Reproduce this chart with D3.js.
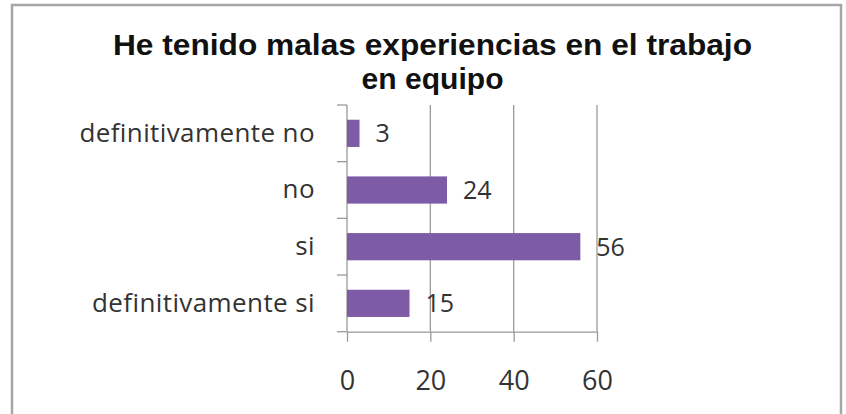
<!DOCTYPE html>
<html><head><meta charset="utf-8">
<script src="https://cdn.jsdelivr.net/npm/d3@7"></script>
<style>body{margin:0;background:#fff}svg{display:block}</style>
</head><body>
<script>
const titleLines = ["He tenido malas experiencias en el trabajo", "en equipo"];
const categories = ["definitivamente no", "no", "si", "definitivamente si"];
const values = [3, 24, 56, 15];
const xTicks = [0, 20, 40, 60];

const W = 846, H = 414;
const FONT = "'Open Sans', sans-serif";
const svg = d3.select("body").append("svg").attr("width", W).attr("height", H);
svg.append("rect").attr("width", W).attr("height", H).attr("fill", "#fff");
// frame
svg.append("path").attr("d", "M12,430 L12,5 L841,5 L841,430")
  .attr("fill", "none").attr("stroke", "#a6a6a6").attr("stroke-width", 2.5);

const m = {left: 347, right: 597, top: 105, bottom: 331.7};
const x = d3.scaleLinear().domain([0, 60]).range([m.left, m.right]);
const y = d3.scaleBand().domain(categories).range([m.top, m.bottom]).paddingInner(0.52).paddingOuter(0.26);
const yb = d3.scaleBand().domain(categories).range([m.top, m.bottom]);

// title
const t = svg.append("g").attr("font-family", "Liberation Sans, Arial, sans-serif")
  .attr("font-weight", "bold").attr("font-size", 30).attr("fill", "#111").attr("text-anchor", "middle");
t.append("text").attr("x", 432.5).attr("y", 55).attr("textLength", 639).attr("lengthAdjust", "spacingAndGlyphs").text(titleLines[0]);
t.append("text").attr("x", 432.5).attr("y", 89).attr("textLength", 142).attr("lengthAdjust", "spacingAndGlyphs").text(titleLines[1]);

// gridlines
svg.append("g").selectAll("line").data(xTicks.slice(1)).join("line")
  .attr("x1", d => x(d)).attr("x2", d => x(d)).attr("y1", m.top).attr("y2", m.bottom)
  .attr("stroke", "#9a9a9a").attr("stroke-width", 1.3);

// x axis
const xa = svg.append("g").attr("transform", `translate(0,${m.bottom})`)
  .call(d3.axisBottom(x).tickValues(xTicks).tickSize(10).tickPadding(29).tickSizeOuter(0));
xa.select(".domain").attr("stroke", "#9a9a9a").attr("stroke-width", 1.3);
xa.selectAll(".tick line").attr("stroke", "#9a9a9a").attr("stroke-width", 1.3);
xa.selectAll("text").attr("font-family", FONT).attr("font-size", 27).attr("fill", "#333");

// y axis with ticks at band boundaries
const ya = svg.append("g").attr("transform", `translate(${m.left},0)`);
ya.append("line").attr("x1", 0).attr("x2", 0).attr("y1", m.top).attr("y2", m.bottom).attr("stroke", "#9a9a9a").attr("stroke-width", 1.3);
const bounds = categories.map(c => yb(c)).concat([m.bottom]);
ya.selectAll(".bt").data(bounds).join("line").attr("class", "bt")
  .attr("x1", -10).attr("x2", 0).attr("y1", d => d).attr("y2", d => d)
  .attr("stroke", "#9a9a9a").attr("stroke-width", 1.3);
ya.selectAll("text").data(categories).join("text")
  .attr("x", -32).attr("y", d => yb(d) + yb.bandwidth() / 2).attr("dy", "0.32em")
  .attr("text-anchor", "end").attr("font-family", FONT).attr("font-size", 26)
  .attr("letter-spacing", 0.4).attr("fill", "#333")
  .text(d => d);

// bars
svg.append("g").selectAll("rect").data(values).join("rect")
  .attr("x", x(0)).attr("y", (d, i) => y(categories[i]))
  .attr("width", d => x(d) - x(0)).attr("height", y.bandwidth())
  .attr("fill", "#7d5ba6");

// value labels
svg.append("g").selectAll("text").data(values).join("text")
  .attr("x", d => x(d) + 16).attr("y", (d, i) => y(categories[i]) + y.bandwidth() / 2).attr("dy", "0.36em")
  .attr("font-family", FONT).attr("font-size", 25).attr("fill", "#333")
  .text(d => d);
</script>
</body></html>
